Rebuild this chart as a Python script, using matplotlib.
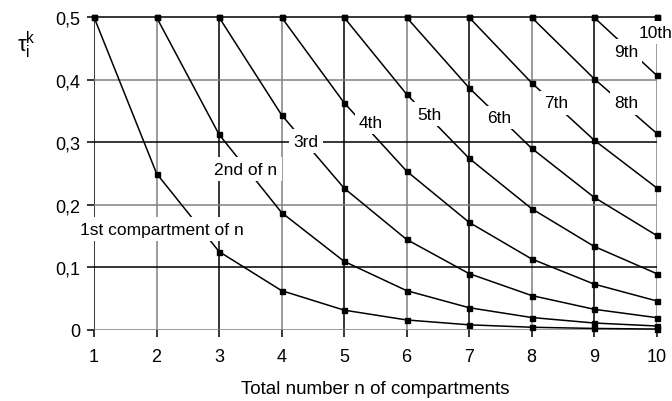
import matplotlib
matplotlib.use("Agg")
import matplotlib.pyplot as plt
import numpy as np

plt.rcParams['font.family'] = ['Liberation Sans', 'DejaVu Sans']
plt.rcParams['mathtext.fontset'] = 'custom'
plt.rcParams['mathtext.rm'] = 'Liberation Sans'
plt.rcParams['mathtext.it'] = 'Liberation Sans'

nan = float('nan')
n_values = [1, 2, 3, 4, 5, 6, 7, 8, 9, 10]

# plateau line at 0.5 across all n
top = [0.5, 0.5, 0.5, 0.5, 0.5, 0.5, 0.5, 0.5, 0.5, 0.5]
# tau values per compartment, starting at n = compartment index
s1 = [0.5, 0.25, 0.125, 0.0625, 0.0313, 0.0156, 0.0078, 0.0039, 0.0020, 0.0010]
s2 = [nan, 0.5, 0.3125, 0.1875, 0.1094, 0.0625, 0.0352, 0.0195, 0.0107, 0.0059]
s3 = [nan, nan, 0.5, 0.3438, 0.2266, 0.1445, 0.0898, 0.0547, 0.0327, 0.0193]
s4 = [nan, nan, nan, 0.5, 0.3633, 0.2539, 0.1719, 0.1133, 0.0730, 0.0461]
s5 = [nan, nan, nan, nan, 0.5, 0.3770, 0.2744, 0.1938, 0.1334, 0.0898]
s6 = [nan, nan, nan, nan, nan, 0.5, 0.3872, 0.2905, 0.2120, 0.1509]
s7 = [nan, nan, nan, nan, nan, nan, 0.5, 0.3953, 0.3036, 0.2272]
s8 = [nan, nan, nan, nan, nan, nan, nan, 0.5, 0.4018, 0.3145]
s9 = [nan, nan, nan, nan, nan, nan, nan, nan, 0.5, 0.4073]
s10 = [nan, nan, nan, nan, nan, nan, nan, nan, nan, 0.5]
series = [top, s1, s2, s3, s4, s5, s6, s7, s8, s9, s10]

labels = ["1st compartment of n", "2nd of n", "3rd", "4th", "5th", "6th",
          "7th", "8th", "9th", "10th"]
label_x = [2.09, 3.43, 4.39, 5.43, 6.36, 7.49, 8.39, 9.51, 9.51, 9.99]
label_y = [0.161, 0.257, 0.302, 0.332, 0.345, 0.340, 0.363, 0.363, 0.446, 0.476]

y_ticks = [0, 0.1, 0.2, 0.3, 0.4, 0.5]
y_ticklabels = ["0", "0,1", "0,2", "0,3", "0,4", "0,5"]

fig = plt.figure(figsize=(6.72, 4.02), dpi=100)
ax = fig.add_axes([0.140, 0.1774, 0.837, 0.777])

ax.set_xlim(1, 10)
ax.set_ylim(0, 0.5)
for sp in ax.spines.values():
    sp.set_visible(False)

# grid lines (alternating dark/grey as in the reference)
for i, xv in enumerate(n_values):
    col = 'black' if i % 2 == 0 else '#808080'
    ax.axvline(xv, color=col, lw=1.1, zorder=1)
for i, yv in enumerate(y_ticks[:-1]):
    col = '#808080' if i % 2 == 0 else 'black'
    ax.axhline(yv, color=col, lw=1.1, zorder=1)

for s in series:
    ax.plot(n_values, s, color='black', lw=1.1, marker='s', ms=3.6,
            markerfacecolor='black', markeredgecolor='black', zorder=3,
            clip_on=False)

for lab, lx, ly in zip(labels, label_x, label_y):
    ax.text(lx, ly, lab, fontsize=12.5, ha='center', va='center', zorder=5,
            bbox=dict(facecolor='white', edgecolor='none', pad=3))

ax.set_xticks(n_values)
ax.set_xticklabels([str(v) for v in n_values], fontsize=13)
ax.set_yticks(y_ticks)
ax.set_yticklabels(y_ticklabels, fontsize=13)
ax.tick_params(axis='both', length=5, width=1.1, color='black')
ax.tick_params(axis='x', pad=8)
ax.tick_params(axis='y', pad=5)

ax.set_xlabel("Total number n of compartments", fontsize=13.5, labelpad=11)
fig.text(0.040, 0.888, r'$\mathrm{\tau}_\mathrm{i}^\mathrm{k}$', fontsize=16,
         ha='center', va='center')

fig.savefig("out.png", dpi=100)
